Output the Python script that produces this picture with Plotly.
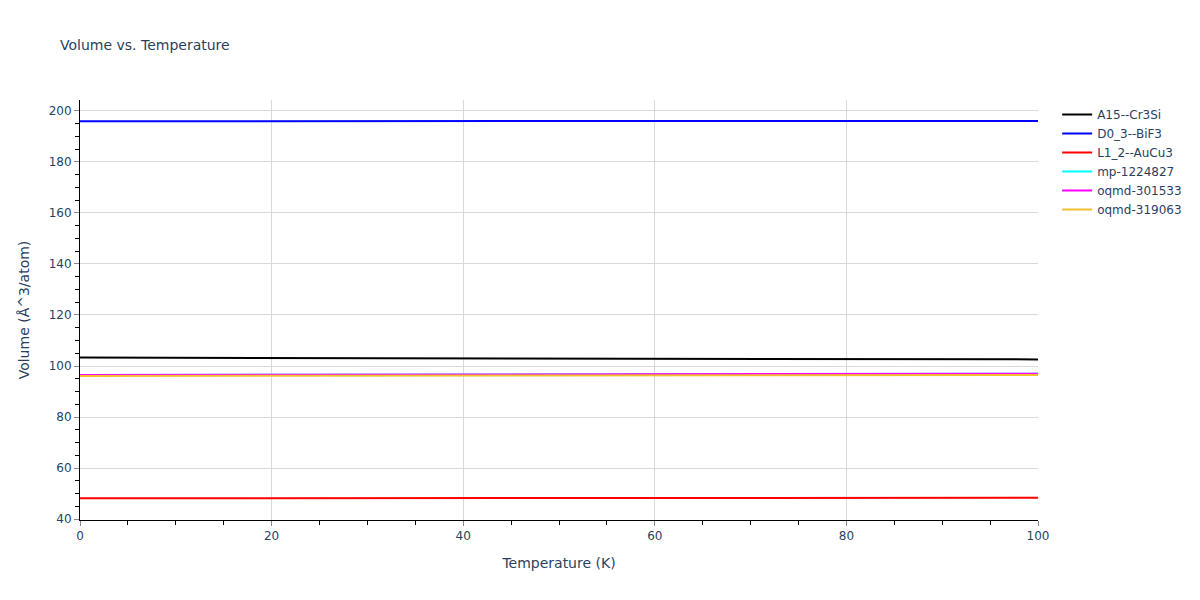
import plotly.graph_objects as go

# Temperature grid (K)
temperature = [0, 20, 40, 60, 80, 100]

# Volume per atom (Å^3/atom)
vol_a15_cr3si = [103.3, 103.2, 103.0, 102.9, 102.7, 102.6]
vol_d0_3_bif3 = [195.9, 195.9, 195.9, 196.0, 196.0, 196.0]
vol_l1_2_aucu3 = [48.2, 48.2, 48.2, 48.3, 48.3, 48.4]
vol_mp_1224827 = [96.5, 96.6, 96.7, 96.8, 96.9, 97.0]
vol_oqmd_301533 = [96.5, 96.6, 96.7, 96.8, 96.9, 97.0]
vol_oqmd_319063 = [96.1, 96.2, 96.3, 96.3, 96.4, 96.5]

series = [
    ("A15--Cr3Si", vol_a15_cr3si, "black"),
    ("D0_3--BiF3", vol_d0_3_bif3, "blue"),
    ("L1_2--AuCu3", vol_l1_2_aucu3, "red"),
    ("mp-1224827", vol_mp_1224827, "cyan"),
    ("oqmd-301533", vol_oqmd_301533, "magenta"),
    ("oqmd-319063", vol_oqmd_319063, "#f0c030"),
]

fig = go.Figure()
for name, vals, color in series:
    fig.add_trace(go.Scatter(x=temperature, y=vals, mode="lines", name=name,
                             line=dict(color=color, width=2)))

axis_style = dict(
    showline=True, linecolor="black", linewidth=1,
    ticks="outside", tickcolor="#888", ticklen=5,
    showgrid=True, gridcolor="#d9d9d9", zeroline=False,
    tickfont=dict(size=12),
    minor=dict(ticks="outside", ticklen=4, tickcolor="black", dtick=5, showgrid=False),
)

fig.update_layout(
    title=dict(text="Volume vs. Temperature", font=dict(size=14)),
    plot_bgcolor="white",
    paper_bgcolor="white",
    width=1200, height=600,
    margin=dict(l=80, r=162, t=100, b=80),
    xaxis=dict(title=dict(text="Temperature (K)", font=dict(size=14)),
               range=[0, 100], dtick=20, **axis_style),
    yaxis=dict(title=dict(text="Volume (Å^3/atom)", font=dict(size=14)),
               range=[39.7, 204.2], dtick=20, **axis_style),
    legend=dict(x=1.02, y=1, font=dict(size=12)),
    font=dict(family="DejaVu Sans, Verdana, sans-serif", color="#2a3f5f"),
)

# drop the page margin so the figure sits at the window's top-left corner
fig.write_html("out.html", config={"displayModeBar": False},
               post_script="document.body.style.margin='0';")
